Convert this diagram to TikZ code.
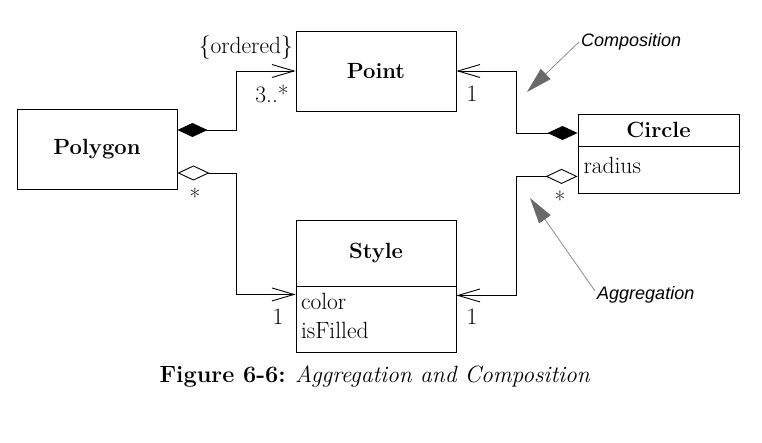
\documentclass[tikz,border=0pt]{standalone}
\usepackage{fontspec}
\newfontfamily\notefont{Liberation Sans}
\usetikzlibrary{arrows.meta}
\definecolor{NoteGray}{RGB}{105,105,105}
\definecolor{NoteLine}{RGB}{140,140,140}

\begin{document}
\begin{tikzpicture}[
  x=1pt, y=-1pt,
  font=\fontsize{23.5}{29}\selectfont,
  classbox/.style={
    draw, line width=0.9pt,
    inner sep=0pt,
    font=\fontsize{22}{28}\selectfont\bfseries
  },
  attrbox/.style={
    draw, line width=0.9pt,
    inner xsep=0pt, anchor=north,
    text width=150pt, align=left
  },
  compo/.style={
    line width=0.9pt,
    {Diamond[length=30pt,width=14pt]}-{Straight Barb[length=22pt,width=13pt]}
  },
  aggr/.style={
    line width=0.9pt,
    {Diamond[open,fill=white,length=32pt,width=15pt]}-{Straight Barb[length=22pt,width=13pt]}
  },
  mult/.style={inner sep=1pt},
  notelabel/.style={
    inner sep=2pt, anchor=west,
    font=\fontsize{18}{22}\notefont\itshape
  },
  note/.style={
    draw=NoteLine, line width=0.8pt,
    -{Triangle[length=26pt,width=14pt,color=NoteGray]}
  }
]
\useasboundingbox (0,0) rectangle (762,443);

\node[classbox, minimum width=160pt, minimum height=80pt]
  (polygon) at (97,149) {Polygon};
\node[classbox, minimum width=160pt, minimum height=80pt]
  (point) at (376,71) {Point};

\node[classbox, minimum width=161pt, minimum height=32pt]
  (circle) at (658.5,130) {Circle};
\node[attrbox, minimum width=161pt, minimum height=47pt,
  inner ysep=5pt, text depth=11pt]
  (circleattr) at (circle.south) {radius};

\node[classbox, minimum width=160pt, minimum height=66pt]
  (style) at (376,253) {Style};
\node[attrbox, minimum width=160pt, minimum height=66pt]
  (styleattr) at (style.south) {color\\isFilled\vspace*{7pt}};

\draw[compo] ([yshift=19pt]polygon.east) -- ++(59,0) |- (point.west);
\draw[aggr] ([yshift=-24pt]polygon.east) -- ++(59,0)
  |- ([yshift=-8pt]style.south west);
\draw[compo] ([yshift=-3pt]circle.west) -- ++(-61,0) |- (point.east);
\draw[aggr] ([yshift=-6pt]circleattr.west) -- ++(-61,0)
  |- ([yshift=-9pt]style.south east);

\node[mult, anchor=east] (ordered) at (294,48) {\{ordered\}};
\node[mult] (pointmany) at (272,94) {3..*};
\node[mult] (polystyle) at (195,197) {*};
\node[mult] (styleone) at (278,317) {1};
\node[mult] (pointone) at (472,94) {1};
\node[mult] (circlestyle) at (560,200) {*};
\node[mult] (styletwo) at (472,317) {1};

\node[notelabel] (complabel) at (579,42) {Composition};
\coordinate (comptip) at (527,92);
\draw[note] (complabel.west) -- (comptip);

\node[notelabel] (aggrlabel) at (595,295) {Aggregation};
\coordinate (aggrtip) at (530,198);
\draw[note] ([yshift=4pt]aggrlabel.west) -- (aggrtip);

\node[font=\fontsize{23.5}{28}\selectfont] (caption) at (375,377)
  {\textbf{Figure 6-6:} \textit{Aggregation and Composition}};
\end{tikzpicture}
\end{document}
